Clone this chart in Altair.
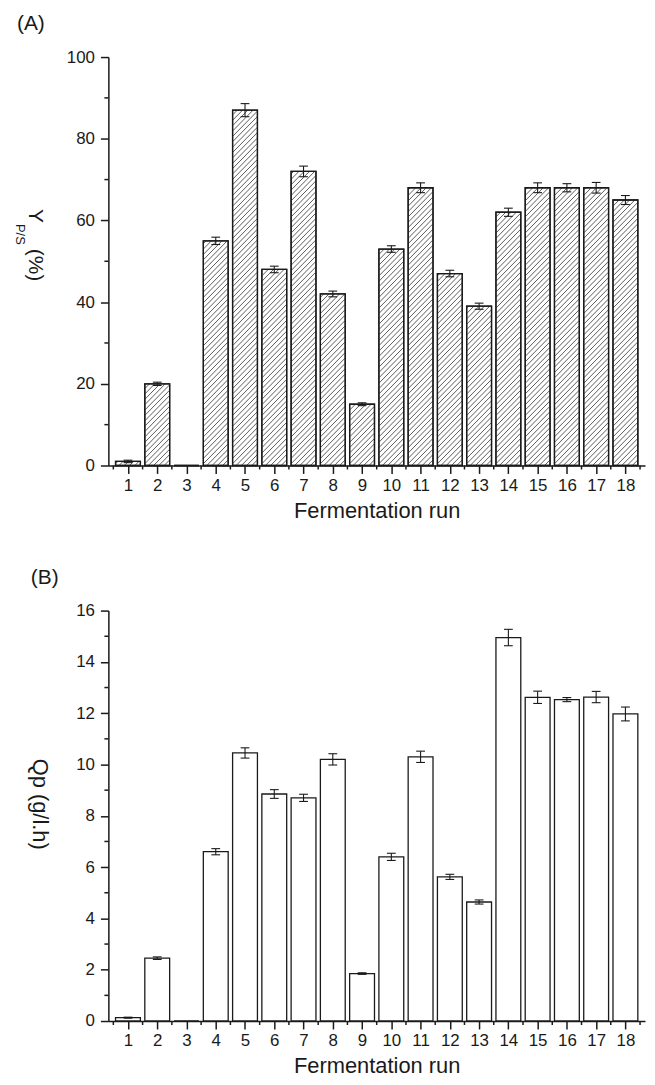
import altair as alt
import pandas as pd

# ---------------- data ----------------
runs = list(range(1, 19))
yps = [1, 20, 0, 55, 87, 48, 72, 42, 15, 53, 68, 47, 39, 62, 68, 68, 68, 65]
yps_err = [0.3, 0.4, 0, 0.9, 1.6, 0.8, 1.3, 0.7, 0.35, 0.8, 1.2, 0.8, 0.75, 1.0, 1.2, 1.0, 1.3, 1.1]
qp = [0.13, 2.45, 0, 6.6, 10.45, 8.85, 8.7, 10.2, 1.85, 6.4, 10.3, 5.62, 4.64,
      14.95, 12.62, 12.53, 12.63, 11.97]
qp_err = [0.02, 0.05, 0, 0.12, 0.2, 0.17, 0.14, 0.22, 0.03, 0.14, 0.22, 0.1, 0.08,
          0.32, 0.24, 0.08, 0.22, 0.27]

top_major = [0, 20, 40, 60, 80, 100]
top_minor = [10, 30, 50, 70, 90]
bot_major = [0, 2, 4, 6, 8, 10, 12, 14, 16]
bot_minor = [1, 3, 5, 7, 9, 11, 13, 15]
x_minor = [r - 0.5 for r in runs] + [runs[-1] + 0.5]

# ---------------- style ----------------
W = 540
BAR_PX = 25
PX_PER_RUN = W / 18.0
FONT = "Liberation Sans"
INK = "#1a1a1a"


def panel(values, errors, ymax, height, ymajor, yminor, hatch, tag, tag_x, title_parts):
    df = pd.DataFrame({"run": runs, "value": values, "err": errors})
    xs = alt.Scale(domain=[0.5, 18.5], nice=False, zero=False)
    ys = alt.Scale(domain=[0, ymax], nice=False)
    xax = alt.Axis(values=runs, title="Fermentation run", tickSize=8, labelPadding=4,
                   titlePadding=7, labelFlush=False, labelOverlap=False, format="d")
    yax = alt.Axis(values=ymajor, title=None, tickSize=8, labelPadding=6, format="d")

    def X(f):
        return alt.X(f, scale=xs, axis=xax, title="Fermentation run")

    def Y(f):
        return alt.Y(f, scale=ys, axis=yax, title=None)

    base = alt.Chart(df)
    bars = base.mark_bar(width=BAR_PX, fill="white", stroke=INK, strokeWidth=1.3).encode(
        x=X("run:Q"), y=Y("value:Q"))
    layers = [bars]

    if hatch:
        half = BAR_PX / 2.0
        upp = ymax / height  # data units per pixel (y)
        h = (base.transform_filter("datum.value > 0")
             .transform_calculate(k="sequence(0, 90)")
             .transform_flatten(["k"])
             .transform_calculate(hpx=f"datum.value / {upp}",
                                  c=f"-{BAR_PX} + datum.k * 5.4")
             .transform_filter("datum.c < datum.hpx")
             .transform_calculate(sx="max(0, -datum.c)",
                                  ex=f"min({BAR_PX}, datum.hpx - datum.c)")
             .transform_filter("datum.ex > datum.sx")
             .transform_calculate(
                 hx1=f"datum.run + (datum.sx - {half}) / {PX_PER_RUN}",
                 hx2=f"datum.run + (datum.ex - {half}) / {PX_PER_RUN}",
                 hy1=f"(datum.sx + datum.c) * {upp}",
                 hy2=f"(datum.ex + datum.c) * {upp}")
             .mark_rule(color="#333", strokeWidth=0.8)
             .encode(x=X("hx1:Q"), x2="hx2:Q", y=Y("hy1:Q"), y2="hy2:Q"))
        outline = base.mark_bar(width=BAR_PX, fill=None, fillOpacity=0, stroke=INK,
                                strokeWidth=1.3).encode(x=X("run:Q"), y=Y("value:Q"))
        layers += [h, outline]

    cap = 4.5 / PX_PER_RUN
    eb = base.transform_filter("datum.value > 0").transform_calculate(
        lo="datum.value - datum.err", hi="datum.value + datum.err",
        cl=f"datum.run - {cap}", cr=f"datum.run + {cap}")
    stem = eb.mark_rule(color=INK, strokeWidth=1.1).encode(
        x=X("run:Q"), y=Y("lo:Q"), y2="hi:Q")
    cap_lo = eb.mark_rule(color=INK, strokeWidth=1.1).encode(
        x=X("cl:Q"), x2="cr:Q", y=Y("lo:Q"))
    cap_hi = eb.mark_rule(color=INK, strokeWidth=1.1).encode(
        x=X("cl:Q"), x2="cr:Q", y=Y("hi:Q"))
    layers += [stem, cap_lo, cap_hi]

    # minor ticks
    ymin = alt.Chart(pd.DataFrame({"v": yminor})).mark_rule(color=INK, strokeWidth=1.5).encode(
        y=Y("v:Q"), x=alt.value(-4), x2=alt.value(0))
    xmin = alt.Chart(pd.DataFrame({"v": x_minor})).mark_rule(color=INK, strokeWidth=1.5).encode(
        x=X("v:Q"), y=alt.value(height), y2=alt.value(height + 4))
    layers += [ymin, xmin]

    # panel tag
    tagc = alt.Chart(pd.DataFrame({"t": [tag]})).mark_text(
        font=FONT, fontSize=21, align="left", baseline="middle", color=INK).encode(
        text="t:N", x=alt.value(tag_x), y=alt.value(-33))
    layers.append(tagc)

    # rotated y title pieces
    for txt, size, dx, dy in title_parts:
        layers.append(alt.Chart(pd.DataFrame({"t": [txt]})).mark_text(
            font=FONT, fontSize=size, angle=90, align="left", baseline="alphabetic",
            color=INK).encode(text="t:N", x=alt.value(dx), y=alt.value(dy)))

    return alt.layer(*layers).properties(width=W, height=height)


top = panel(yps, yps_err, 100, 411, top_major, top_minor, True, "(A)", -92,
            [("Y", 21, -80, 153), ("P/S", 13, -93, 168), ("(%)", 21, -80, 193)])
bottom = panel(qp, qp_err, 16, 413, bot_major, bot_minor, False, "(B)", -78,
               [("Qp (g/l.h)", 22, -76, 149)])

chart = alt.vconcat(top, bottom, spacing=46).properties(
    padding={"left": 5, "top": 2, "right": 2, "bottom": 2}
).configure(font=FONT).configure_view(stroke=None).configure_axis(
    grid=False, domainColor=INK, domainWidth=1.5, tickColor=INK, tickWidth=1.5,
    labelColor=INK, labelFontSize=17, labelFont=FONT, titleFont=FONT,
    titleFontSize=22, titleFontWeight="normal", titleColor=INK,
)

chart.save("out.html", embed_options={"renderer": "svg", "actions": False})
